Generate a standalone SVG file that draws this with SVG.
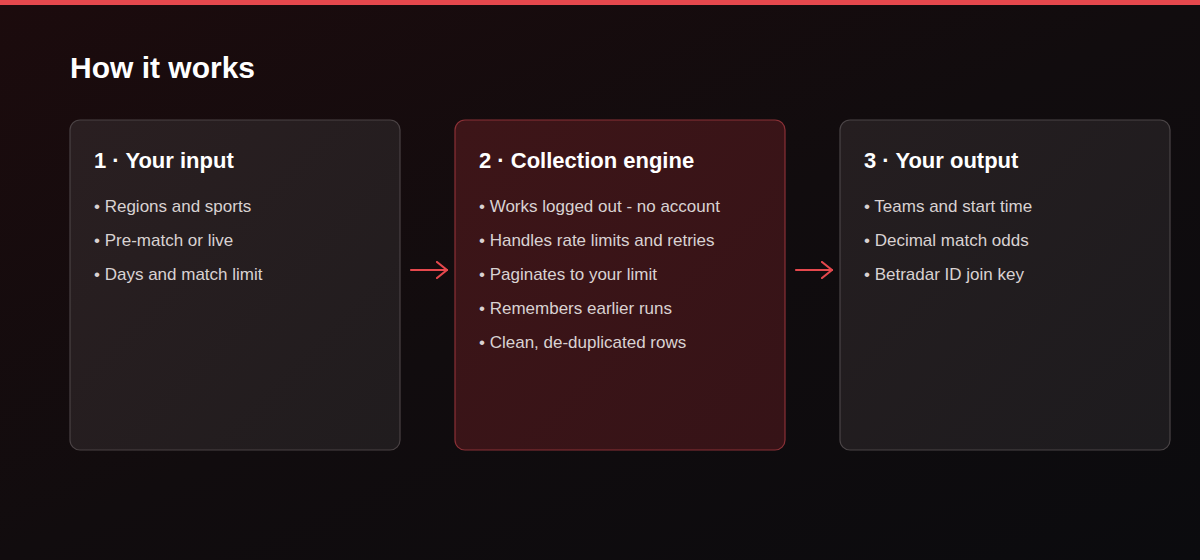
<svg xmlns="http://www.w3.org/2000/svg" width="1200" height="560" viewBox="0 0 1200 560">
<defs>
<linearGradient id="bg" x1="0" y1="0" x2="1" y2="1">
<stop offset="0" stop-color="#1c0b0d"/>
<stop offset="0.5" stop-color="#110c0e"/>
<stop offset="1" stop-color="#0b0b0e"/>
</linearGradient>
<linearGradient id="cardg" x1="0" y1="0" x2="1" y2="1">
<stop offset="0" stop-color="#2a1f21"/>
<stop offset="1" stop-color="#201c1e"/>
</linearGradient>
<linearGradient id="cardg3" x1="0" y1="0" x2="1" y2="1">
<stop offset="0" stop-color="#251e20"/>
<stop offset="1" stop-color="#1d1b1e"/>
</linearGradient>
<linearGradient id="hot" x1="0" y1="0" x2="1" y2="1">
<stop offset="0" stop-color="#3d1518"/>
<stop offset="1" stop-color="#361317"/>
</linearGradient>
<marker id="ah" viewBox="0 0 12 18" refX="11" refY="9" markerWidth="12" markerHeight="18" markerUnits="userSpaceOnUse" orient="auto">
<path d="M1,1 L11,9 L1,17" fill="none" stroke="#e5484d" stroke-width="2.2" stroke-linecap="round" stroke-linejoin="round"/>
</marker>
</defs>
<style>
.title{font-family:"Liberation Sans",Arial,sans-serif;font-weight:700;font-size:30px;fill:#ffffff}
.h{font-family:"Liberation Sans",Arial,sans-serif;font-weight:700;font-size:22px;fill:#ffffff}
.b{font-family:"Liberation Sans",Arial,sans-serif;font-size:17px;fill:#d9d2d2}
.card{fill:url(#cardg);stroke:#4a4244;stroke-width:1.2}
.card3{fill:url(#cardg3);stroke:#4a4446;stroke-width:1.2}
.cardhot{fill:url(#hot);stroke:#8a3036;stroke-width:1.2}
.conn{stroke:#e5484d;stroke-width:2.2;fill:none;stroke-linecap:round}
</style>
<rect width="1200" height="560" fill="url(#bg)"/>
<rect width="1200" height="5" fill="#e5484d"/>
<text class="title" x="70" y="78">How it works</text>

<g id="node1">
<rect class="card" x="70" y="120" width="330" height="330" rx="10"/>
<text class="h" x="94" y="168">1 · Your input</text>
<text class="b" x="94" y="212">• Regions and sports</text>
<text class="b" x="94" y="246">• Pre-match or live</text>
<text class="b" x="94" y="280">• Days and match limit</text>
</g>

<g id="node2">
<rect class="cardhot" x="455" y="120" width="330" height="330" rx="10"/>
<text class="h" x="479" y="168">2 · Collection engine</text>
<text class="b" x="479" y="212">• Works logged out - no account</text>
<text class="b" x="479" y="246">• Handles rate limits and retries</text>
<text class="b" x="479" y="280">• Paginates to your limit</text>
<text class="b" x="479" y="314">• Remembers earlier runs</text>
<text class="b" x="479" y="348">• Clean, de-duplicated rows</text>
</g>

<g id="node3">
<rect class="card3" x="840" y="120" width="330" height="330" rx="10"/>
<text class="h" x="864" y="168">3 · Your output</text>
<text class="b" x="864" y="212">• Teams and start time</text>
<text class="b" x="864" y="246">• Decimal match odds</text>
<text class="b" x="864" y="280">• Betradar ID join key</text>
</g>

<g id="connectors">
<line class="conn" x1="411" y1="270" x2="447" y2="270" marker-end="url(#ah)"/>
<line class="conn" x1="796" y1="270" x2="832" y2="270" marker-end="url(#ah)"/>
</g>
</svg>
